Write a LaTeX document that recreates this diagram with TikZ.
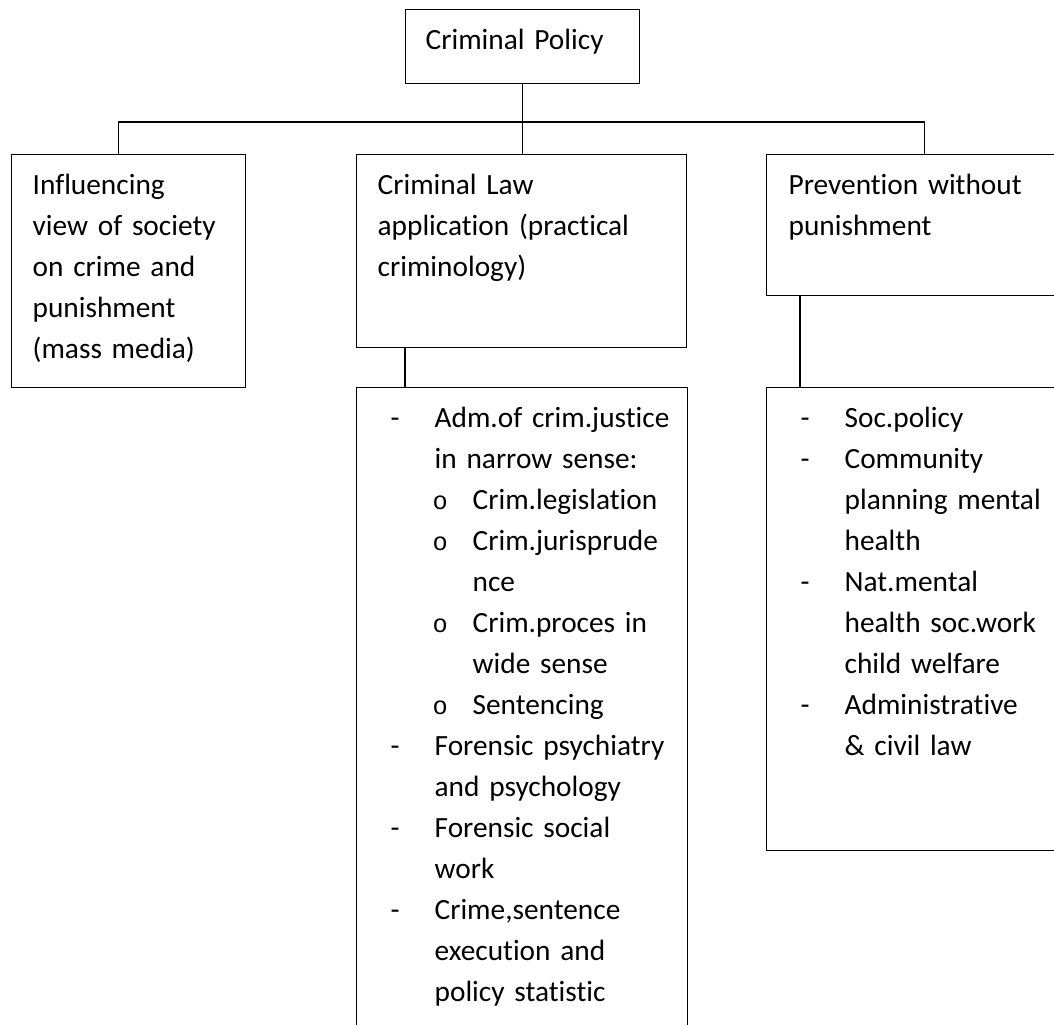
\documentclass[tikz,border=0pt]{standalone}
\usepackage{fontspec}
\setmainfont{Carlito}[Ligatures={NoCommon}]
\newfontfamily\bulletfont{Liberation Mono}
\newcommand{\dashitem}{\makebox[33pt][l]{-}}
\newcommand{\circitem}{\hspace*{31.5pt}\makebox[30pt][l]{\bulletfont\fontsize{19}{30.75}\selectfont o}}
\newcommand{\indentone}{\hspace*{33pt}}
\newcommand{\indenttwo}{\hspace*{61.5pt}}
\begin{document}
\begin{tikzpicture}
	[x=0.75pt,y=-0.75pt,
	line width=1pt,
	every node/.style={draw,rectangle,anchor=north west,align=left,inner sep=0pt,
		font=\fontsize{22}{30.75}\selectfont,text height=30pt},
	margin/.style={execute at begin node={\leftskip=#1}}
	]
	\useasboundingbox (0,0) rectangle (1054,1025);
	\clip (0,0) rectangle (1054,1025);
	\node[text width=175.5pt,text depth=25.5pt,margin=15pt] (policy) at (405,9) {Criminal Policy};
	\node[text width=175.5pt,text depth=144.75pt,margin=15.75pt] (inf) at (11,154)
		{Influencing\\view of society\\on crime and\\punishment\\(mass media)};
	\node[text width=247.5pt,text depth=114.75pt,margin=15.75pt] (law) at (356,154)
		{Criminal Law\\application (practical\\criminology)};
	\node[text width=237pt,text depth=75.75pt,margin=16.5pt] (prev) at (766,154)
		{Prevention without\\punishment};
	\node[text width=248.25pt,text depth=495pt,margin=25.5pt] (adm) at (356,387)
		{\dashitem Adm.of crim.justice\\
		\indentone in narrow sense:\\
		\circitem Crim.legislation\\
		\circitem Crim.jurisprude\\
		\indenttwo nce\\
		\circitem Crim.proces in\\
		\indenttwo wide sense\\
		\circitem Sentencing\\
		\dashitem Forensic psychiatry\\
		\indentone and psychology\\
		\dashitem Forensic social\\
		\indentone work\\
		\dashitem Crime,sentence\\
		\indentone execution and\\
		\indentone policy statistic};
	\node[text width=237pt,text depth=317.25pt,margin=25.5pt] (soc) at (766,387)
		{\dashitem Soc.policy\\
		\dashitem Community\\
		\indentone planning mental\\
		\indentone health\\
		\dashitem Nat.mental\\
		\indentone health soc.work\\
		\indentone child welfare\\
		\dashitem Administrative\\
		\indentone \& civil law};
	\coordinate (bus) at (522,122);
	\draw (policy.south) -- (policy.south |- law.north);
	\draw ([xshift=-7.5pt]inf.north) |- (bus) -| (prev.north);
	\draw ([xshift=36.75pt]law.south west) -- ([xshift=36.75pt]adm.north west);
	\draw ([xshift=25.5pt]prev.south west) -- ([xshift=25.5pt]soc.north west);
\end{tikzpicture}
\end{document}
